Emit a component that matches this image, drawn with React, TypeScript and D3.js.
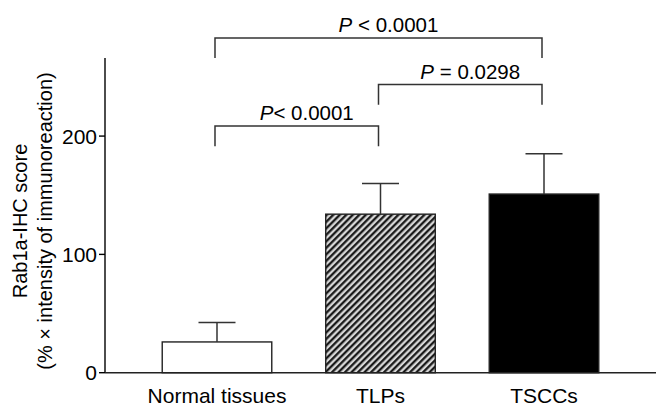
import * as d3 from "d3";

// data
const categories = ["Normal tissues", "TLPs", "TSCCs"];
const means = [26, 134, 151];
const errors = [16.5, 26, 34];
const yTicks = [0, 100, 200];

// significance brackets: group indices, bracket height (score units), label
const bracketFrom = [0, 1, 0];
const bracketTo = [2, 2, 1];
const bracketLevel = [283, 243.5, 208.5];
const bracketP = ["P", "P", "P"];
const bracketText = [" < 0.0001", " = 0.0298", "< 0.0001"];

const W = 656;
const H = 406;
const margin = { top: 58, right: 0, bottom: 33.3, left: 105 };
const FONT = "'Liberation Sans', Arial, Helvetica, sans-serif";

function App() {
  const x = d3
    .scaleBand()
    .domain(categories)
    .range([margin.left, W - margin.right])
    .paddingInner(0.33)
    .paddingOuter(0.35);

  const y = d3
    .scaleLinear()
    .domain([0, 266])
    .range([H - margin.bottom, margin.top]);

  const bw = x.bandwidth();
  const cx = (i: number) => (x(categories[i]) as number) + bw / 2;
  const fills = ["#fff", "url(#hatch)", "#000"];
  const legLen = 17;
  const capHalf = 18.5;

  return (
    <svg
      width={W}
      height={H}
      style={{ position: "absolute", left: 0, top: 0, background: "#fff" }}
      fontFamily={FONT}
    >
      <defs>
        <pattern
          id="hatch"
          width={4.6}
          height={4.6}
          patternUnits="userSpaceOnUse"
          patternTransform="rotate(45)"
        >
          <rect width={4.6} height={4.6} fill="#d8d8d8" />
          <line x1={1.2} y1={0} x2={1.2} y2={4.6} stroke="#111" strokeWidth={2.2} />
        </pattern>
      </defs>

      {/* bars */}
      {categories.map((c, i) => (
        <rect
          key={c}
          x={x(c)}
          y={y(means[i])}
          width={bw}
          height={y(0) - y(means[i])}
          fill={fills[i]}
          stroke="#222"
          strokeWidth={1.4}
        />
      ))}

      {/* error bars (upper only) */}
      {categories.map((c, i) => (
        <g key={c + "-err"} stroke="#333" strokeWidth={1.5}>
          <line x1={cx(i)} x2={cx(i)} y1={y(means[i])} y2={y(means[i] + errors[i])} />
          <line
            x1={cx(i) - capHalf}
            x2={cx(i) + capHalf}
            y1={y(means[i] + errors[i])}
            y2={y(means[i] + errors[i])}
          />
        </g>
      ))}

      {/* axes */}
      <line x1={margin.left} x2={margin.left} y1={y(266)} y2={y(0)} stroke="#000" strokeWidth={1.4} />
      <line x1={margin.left} x2={W} y1={y(0)} y2={y(0)} stroke="#222" strokeWidth={1.4} />
      {yTicks.map((t) => (
        <g key={t}>
          <line x1={margin.left - 6} x2={margin.left} y1={y(t)} y2={y(t)} stroke="#000" strokeWidth={1.4} />
          <text
            x={margin.left - 8}
            y={y(t)}
            dy="0.36em"
            textAnchor="end"
            fontSize={21}
            fill="#000"
          >
            {t}
          </text>
        </g>
      ))}

      {/* category labels */}
      {categories.map((c, i) => (
        <text key={c + "-lab"} x={cx(i)} y={403} textAnchor="middle" fontSize={21} fill="#000">
          {c}
        </text>
      ))}

      {/* y label */}
      <g transform="translate(27,221) rotate(-90)">
        <text textAnchor="middle" fontSize={20} fill="#000">
          Rab1a-IHC score
        </text>
        <text y={25} textAnchor="middle" fontSize={20} fill="#000">
          (% × intensity of immunoreaction)
        </text>
      </g>

      {/* significance brackets */}
      {bracketLevel.map((lv, k) => {
        const x1 = cx(bracketFrom[k]) - 2;
        const x2 = cx(bracketTo[k]) - 2;
        const yy = y(lv);
        const yl = y(lv - legLen);
        return (
          <g key={"br" + k}>
            <path
              d={`M${x1},${yl}V${yy}H${x2}V${yl}`}
              fill="none"
              stroke="#333"
              strokeWidth={1.5}
            />
            <text
              x={(x1 + x2) / 2 + 10}
              y={yy - 6}
              textAnchor="middle"
              fontSize={20.5}
              fill="#000"
            >
              <tspan fontStyle="italic">{bracketP[k]}</tspan>
              {bracketText[k]}
            </text>
          </g>
        );
      })}
    </svg>
  );
}

export default App;
